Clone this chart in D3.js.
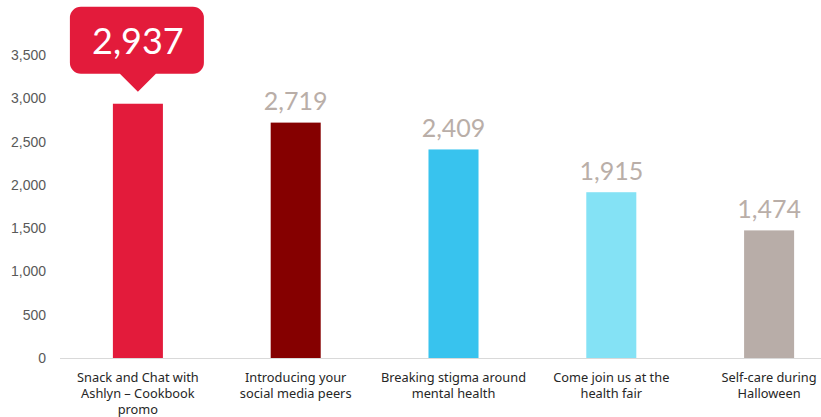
<!DOCTYPE html>
<html>
<head>
<meta charset="utf-8">
<script src="https://cdn.jsdelivr.net/npm/d3@7"></script>
<style>
  html, body { margin: 0; padding: 0; background: #fff; }
  svg { display: block; }
</style>
</head>
<body>
<svg id="chart" width="821" height="417"></svg>
<script>
// Post engagement by topic
const categories = [
  "Snack and Chat with Ashlyn – Cookbook promo",
  "Introducing your social media peers",
  "Breaking stigma around mental health",
  "Come join us at the health fair",
  "Self-care during Halloween"
];
const categoryLines = [
  ["Snack and Chat with", "Ashlyn – Cookbook", "promo"],
  ["Introducing your", "social media peers"],
  ["Breaking stigma around", "mental health"],
  ["Come join us at the", "health fair"],
  ["Self-care during", "Halloween"]
];
const values = [2937, 2719, 2409, 1915, 1474];
const barColors = ["#E31B3B", "#850000", "#38C3EE", "#84E2F5", "#B8ADA8"];
const yTicks = [0, 500, 1000, 1500, 2000, 2500, 3000, 3500];

const svg = d3.select("#chart");
const fmt = d3.format(",");

const x = d3.scaleBand()
  .domain(categories)
  .range([59, 848])
  .paddingInner(0.683)
  .paddingOuter(0.3415);

const y = d3.scaleLinear()
  .domain([0, 3500])
  .range([358, 55]);

// Value axis labels
const yAxis = d3.axisLeft(y)
  .tickValues(yTicks)
  .tickFormat(fmt)
  .tickSize(0)
  .tickPadding(0);

const yg = svg.append("g")
  .attr("transform", "translate(46,0)")
  .call(yAxis);
yg.select(".domain").remove();
yg.selectAll("text")
  .attr("fill", "#595959")
  .style("font-family", "'Liberation Sans', Arial, sans-serif")
  .style("font-size", "14px");

// Baseline
svg.append("line")
  .attr("x1", 60).attr("x2", 821)
  .attr("y1", y(0) + 0.5).attr("y2", y(0) + 0.5)
  .attr("stroke", "#D9D9D9")
  .attr("stroke-width", 1);

// Bars
svg.selectAll("rect.bar")
  .data(values)
  .join("rect")
  .attr("class", "bar")
  .attr("x", (d, i) => x(categories[i]))
  .attr("width", x.bandwidth())
  .attr("y", d => y(d))
  .attr("height", d => y(0) - y(d))
  .attr("fill", (d, i) => barColors[i]);

// Value labels (all but the highlighted top value)
svg.selectAll("text.value")
  .data(values.slice(1))
  .join("text")
  .attr("class", "value")
  .attr("x", (d, i) => x(categories[i + 1]) + x.bandwidth() / 2)
  .attr("y", d => y(d) - 12.5)
  .attr("text-anchor", "middle")
  .attr("fill", "#B9AEA8")
  .style("font-family", "Lato, sans-serif")
  .style("font-size", "25px")
  .text(d => fmt(d));

// Callout for the top value
const topVal = values[0];
const cx = x(categories[0]) + x.bandwidth() / 2;
const tipY = y(topVal) - 12;
const boxBottom = tipY - 18;
const boxTop = boxBottom - 67;
const boxLeft = cx - 68, boxRight = cx + 66, r = 11, hw = 18;
const path = d3.path();
path.moveTo(boxLeft + r, boxTop);
path.lineTo(boxRight - r, boxTop);
path.arcTo(boxRight, boxTop, boxRight, boxTop + r, r);
path.lineTo(boxRight, boxBottom - r);
path.arcTo(boxRight, boxBottom, boxRight - r, boxBottom, r);
path.lineTo(cx + hw, boxBottom);
path.lineTo(cx, tipY);
path.lineTo(cx - hw, boxBottom);
path.lineTo(boxLeft + r, boxBottom);
path.arcTo(boxLeft, boxBottom, boxLeft, boxBottom - r, r);
path.lineTo(boxLeft, boxTop + r);
path.arcTo(boxLeft, boxTop, boxLeft + r, boxTop, r);
path.closePath();
svg.append("path")
  .attr("d", path.toString())
  .attr("fill", barColors[0]);

svg.append("text")
  .attr("x", cx)
  .attr("y", boxBottom - 20)
  .attr("text-anchor", "middle")
  .attr("fill", "#fff")
  .style("font-family", "Lato, sans-serif")
  .style("font-size", "36px")
  .text(fmt(topVal));

// Category labels
const cg = svg.selectAll("text.cat")
  .data(categories)
  .join("text")
  .attr("class", "cat")
  .attr("x", d => x(d) + x.bandwidth() / 2)
  .attr("y", 382)
  .attr("text-anchor", "middle")
  .attr("fill", "#262626")
  .style("font-family", "'Noto Sans', sans-serif")
  .style("font-size", "12.8px");
cg.selectAll("tspan")
  .data((d, i) => categoryLines[i])
  .join("tspan")
  .attr("x", function() { return d3.select(this.parentNode).attr("x"); })
  .attr("dy", (d, j) => j === 0 ? 0 : 16)
  .text(d => d);
</script>
</body>
</html>
